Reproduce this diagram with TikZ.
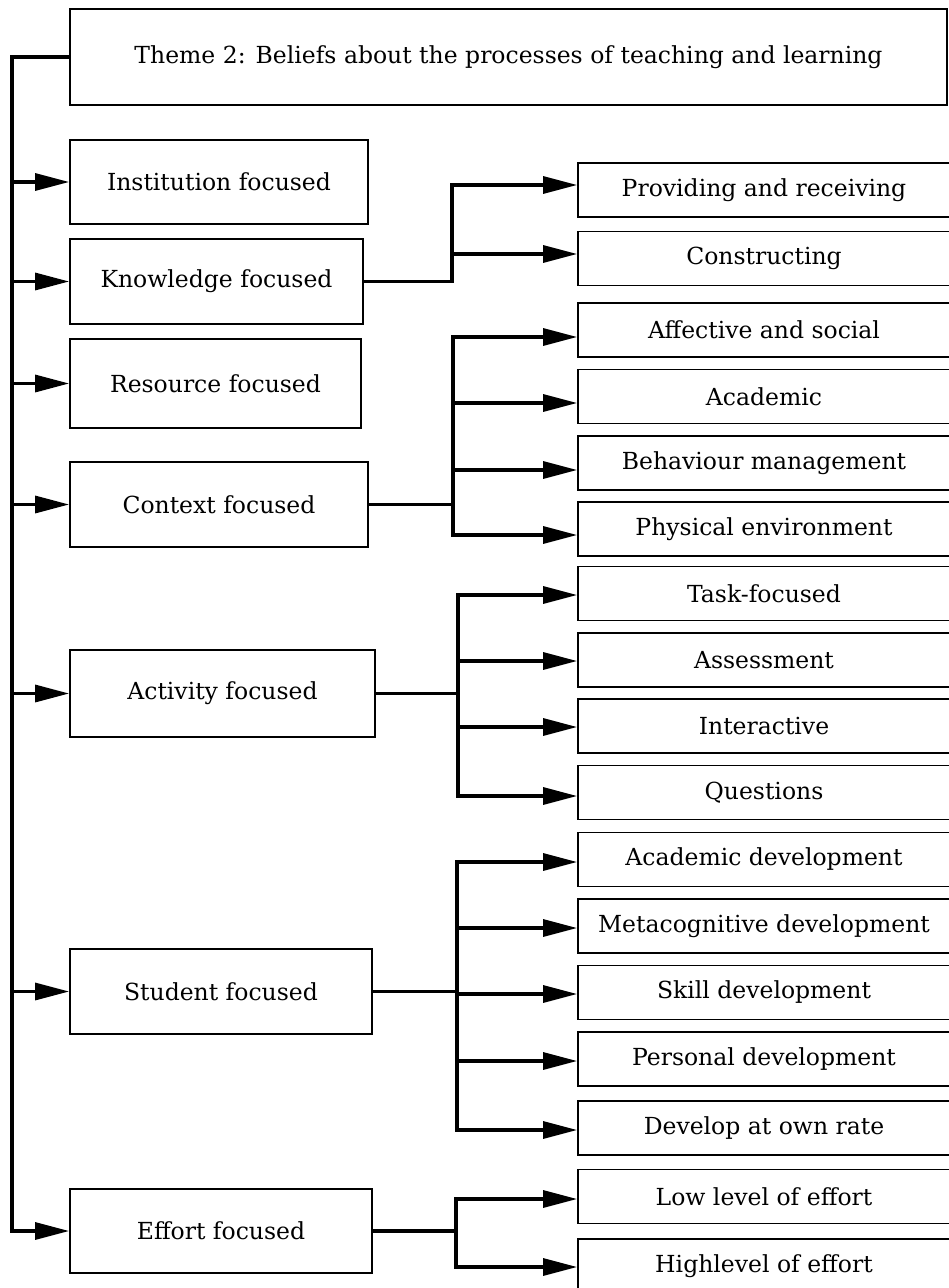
\documentclass[tikz,border=0pt]{standalone}
\usepackage{fontspec}
\setmainfont{DejaVu Serif}
\usetikzlibrary{arrows.meta}

% right-hand category box: name, centre y, arrow offset (pt, up = positive), text
\newcommand\subcat[4]{%
  \node[rbox] (#1) at (764,#2) {#4};
  \coordinate (#1-in) at ([yshift=#3pt]#1.west);}

\begin{document}
\begin{tikzpicture}[x=1pt,y=-1pt,
  >={Triangle[length=34pt,width=17pt]},
  box/.style={draw, line width=1.8pt, inner sep=0pt, anchor=center,
              font=\fontsize{23.5}{28}\selectfont},
  lbox/.style={box, minimum height=85pt},
  rbox/.style={box, minimum width=372pt, minimum height=54pt},
  link/.style={line width=3.2pt, line join=miter},
  arr/.style={link, ->},
  arrs/.style={link, <->},
]
\useasboundingbox (0,0) rectangle (949,1288);
\clip (0,0) rectangle (949,1288);

% theme and main categories
\node[box, minimum width=877pt, minimum height=96pt] (theme) at (508.5,57)
  {Theme 2: Beliefs about the processes of teaching and learning};
\node[lbox, minimum width=298pt, minimum height=84pt] (inst) at (219,182) {Institution focused};
\node[lbox, minimum width=293pt] (know) at (216.5,281.5) {Knowledge focused};
\node[lbox, minimum width=291pt, minimum height=89pt] (res) at (215.5,383.5) {Resource focused};
\node[lbox, minimum width=298pt] (ctx) at (219,504.5) {Context focused};
\node[lbox, minimum width=305pt, minimum height=87pt] (act) at (222.5,693.5) {Activity focused};
\node[lbox, minimum width=302pt] (stud) at (221,991.5) {Student focused};
\node[lbox, minimum width=302pt, minimum height=84pt] (eff) at (221,1231) {Effort focused};

% sub-categories
\subcat{prov}{190}{5}{Providing and receiving}
\subcat{cons}{258.5}{4.5}{Constructing}
\subcat{aff}{330}{-7}{Affective and social}
\subcat{acad}{396.5}{-6.5}{Academic}
\subcat{beh}{463}{-7}{Behaviour management}
\subcat{phys}{529}{-6}{Physical environment}
\subcat{task}{593.5}{-1.5}{Task-focused}
\subcat{assess}{660}{-1}{Assessment}
\subcat{inter}{726}{-1}{Interactive}
\subcat{quest}{792.5}{-3.5}{Questions}
\subcat{acdev}{859.5}{-2.5}{Academic development}
\subcat{meta}{926}{-2}{Metacognitive development}
\subcat{skill}{992.5}{-1.5}{Skill development}
\subcat{pers}{1059}{-2}{Personal development}
\subcat{dev}{1128}{-2}{Develop at own rate}
\subcat{low}{1196.5}{-2.5}{Low level of effort}
\subcat{high}{1266}{-1}{Highlevel of effort}

% junction columns
\coordinate (spine) at (12,0);
\coordinate (jk) at (452,0);
\coordinate (jc) at (453,0);
\coordinate (ja) at (458,0);
\coordinate (js) at (457,0);
\coordinate (je) at (456,0);

% left spine from the theme box to every main category
\draw[arr] (theme.west) -- (theme.west -| spine) -- (eff.west -| spine) -- (eff.west);
\foreach \n in {inst,know,res,ctx,act,stud}
  \draw[arr] (\n.west -| spine) -- (\n.west);

% knowledge focused
\draw[arr] (know.east) -- (know.east -| jk) -- (prov-in -| jk) -- (prov-in);
\draw[arr] (cons-in -| jk) -- (cons-in);

% context focused
\draw[arrs] (aff-in) -- (aff-in -| jc) -- (phys-in -| jc) -- (phys-in);
\draw[link] (ctx.east) -- (ctx.east -| jc);
\foreach \n in {acad,beh} \draw[arr] (\n-in -| jc) -- (\n-in);

% activity focused
\draw[arrs] (task-in) -- (task-in -| ja) -- (quest-in -| ja) -- (quest-in);
\draw[link] (act.east) -- (act.east -| ja);
\foreach \n in {assess,inter} \draw[arr] (\n-in -| ja) -- (\n-in);

% student focused
\draw[arrs] (acdev-in) -- (acdev-in -| js) -- (dev-in -| js) -- (dev-in);
\draw[link] (stud.east) -- (stud.east -| js);
\foreach \n in {meta,skill,pers} \draw[arr] (\n-in -| js) -- (\n-in);

% effort focused
\draw[arrs] (low-in) -- (low-in -| je) -- (high-in -| je) -- (high-in);
\draw[link] (eff.east) -- (eff.east -| je);
\end{tikzpicture}
\end{document}
